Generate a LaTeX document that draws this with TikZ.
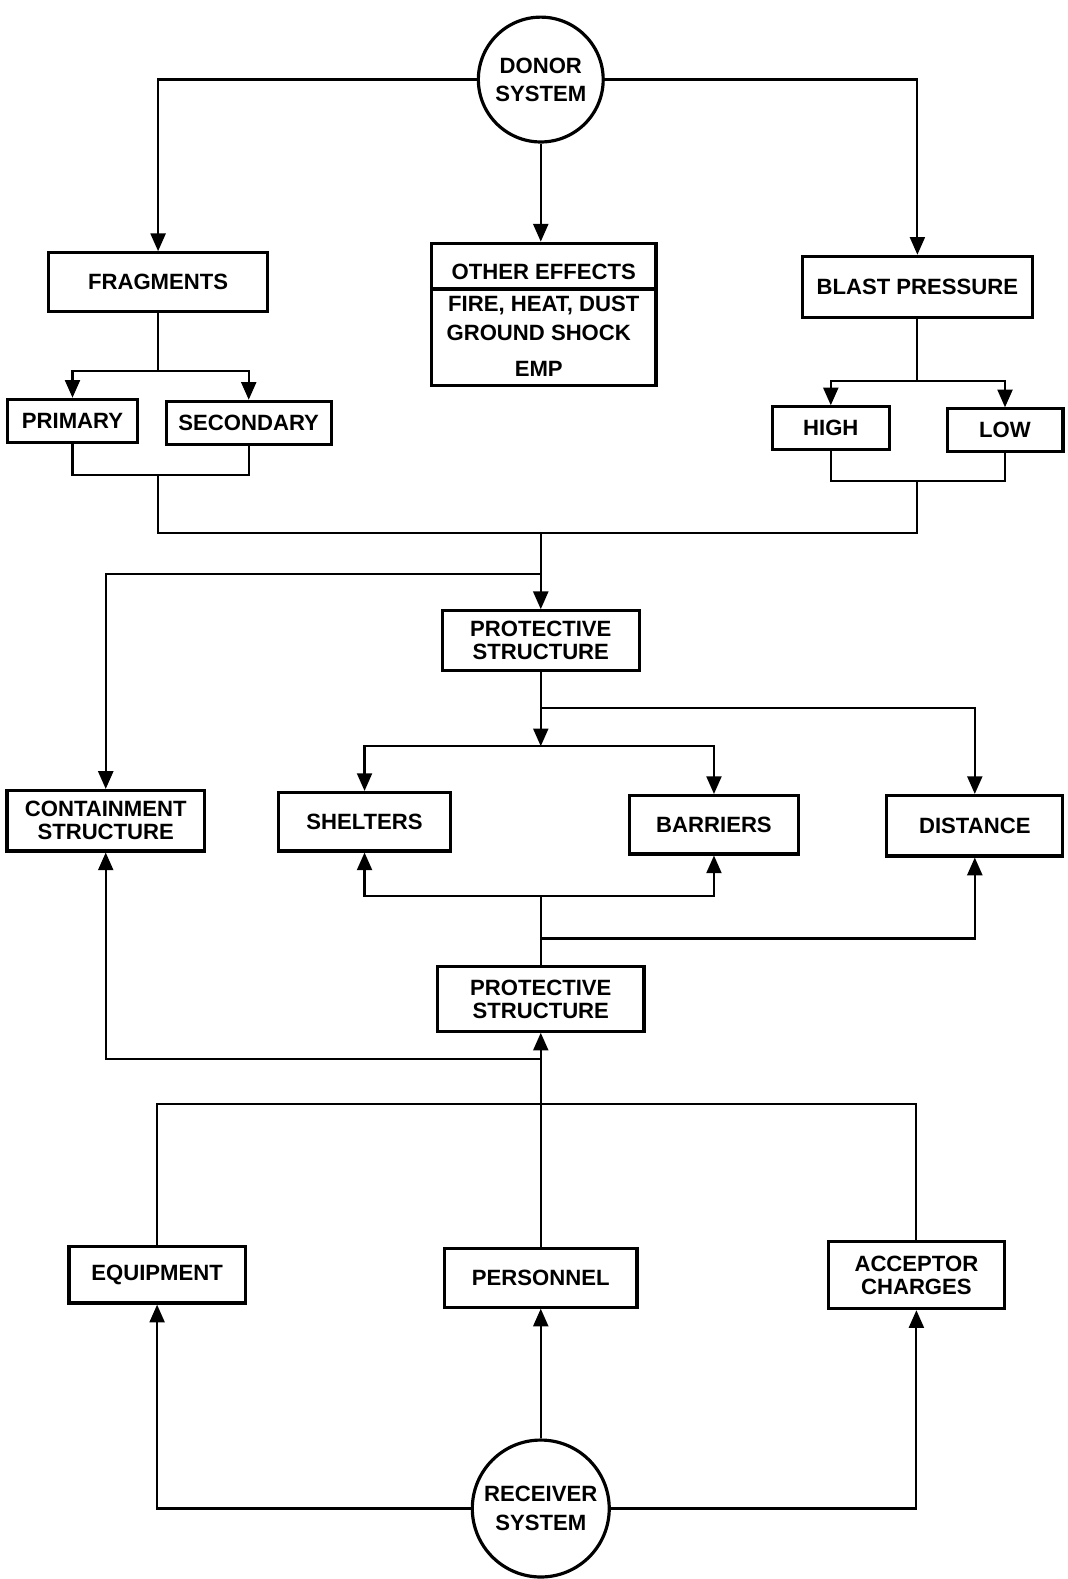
\documentclass[tikz,border=0pt]{standalone}
\usepackage{fontspec}
\setmainfont{Liberation Sans}
\usetikzlibrary{arrows.meta}
\tikzset{
box/.style={draw,line width=1.8pt,inner sep=0pt,align=center,font=\bfseries\fontsize{12.5}{13}\selectfont},
sys/.style={draw,circle,line width=1.8pt,inner sep=0pt,align=center,font=\bfseries\fontsize{12.5}{16}\selectfont},
lbl/.style={inner sep=0pt,font=\bfseries\fontsize{12.5}{13}\selectfont},
arr/.style={-{Triangle[length=10pt,width=8.5pt]}}
}
\begin{document}
\begin{tikzpicture}[x=0.02cm,y=-0.02cm,line width=1.2pt]
\useasboundingbox (0,0) rectangle (1060,1568);
\node[sys,minimum size=2.48cm] (donor) at (537,79) {DONOR\\SYSTEM};
\node[box,minimum width=4.34cm,minimum height=1.16cm] (frag) at (157,280) {FRAGMENTS};
\node[box,minimum width=4.46cm,minimum height=2.82cm] (other) at (540,312) {};
\node[lbl] (othert) at (540,270) {OTHER EFFECTS};
\node[lbl] (fire) at (540,303) {FIRE, HEAT, DUST};
\node[lbl] (ground) at (535,331) {GROUND SHOCK};
\node[lbl] (emp) at (535,366) {EMP};
\node[box,minimum width=4.56cm,minimum height=1.22cm] (blast) at (911,285) {BLAST PRESSURE};
\node[box,minimum width=2.58cm,minimum height=0.86cm] (prim) at (72,418) {PRIMARY};
\node[box,minimum width=3.28cm,minimum height=0.86cm] (sec) at (247,420) {SECONDARY};
\node[box,minimum width=2.32cm,minimum height=0.84cm] (high) at (825,425) {HIGH};
\node[box,minimum width=2.30cm,minimum height=0.84cm] (low) at (998,427) {LOW};
\node[box,minimum width=3.92cm,minimum height=1.18cm] (prot1) at (537,636) {PROTECTIVE\\STRUCTURE};
\node[box,minimum width=3.92cm,minimum height=1.20cm] (cont) at (105,815) {CONTAINMENT\\STRUCTURE};
\node[box,minimum width=3.42cm,minimum height=1.16cm] (shel) at (362,816) {SHELTERS};
\node[box,minimum width=3.36cm,minimum height=1.16cm] (barr) at (709,819) {BARRIERS};
\node[box,minimum width=3.50cm,minimum height=1.20cm] (dist) at (968,820) {DISTANCE};
\node[box,minimum width=4.10cm,minimum height=1.28cm] (prot2) at (537,992) {PROTECTIVE\\STRUCTURE};
\node[box,minimum width=3.50cm,minimum height=1.12cm] (equip) at (156,1266) {EQUIPMENT};
\node[box,minimum width=3.82cm,minimum height=1.16cm] (pers) at (537,1269) {PERSONNEL};
\node[box,minimum width=3.50cm,minimum height=1.34cm] (acc) at (910,1266) {ACCEPTOR\\CHARGES};
\node[sys,minimum size=2.72cm] (recv) at (537,1498) {RECEIVER\\SYSTEM};
\coordinate (odiv) at (540,287);
\coordinate (fsplit) at (157,368);
\coordinate (fbot) at (157,472);
\coordinate (bsplit) at (911,378);
\coordinate (hbot) at (911,478);
\coordinate (ttop) at (537,529);
\coordinate (cbr) at (537,570);
\coordinate (dbr) at (537,703);
\coordinate (sbar) at (537,741);
\coordinate (sbot) at (537,890);
\coordinate (dbot) at (537,932);
\coordinate (cbot) at (537,1052);
\coordinate (ebot) at (537,1096);
\draw[line width=1.8pt] (other.west |- odiv) -- (other.east |- odiv);
\draw[arr] (donor.west) -| (frag.north);
\draw[arr] (donor.south) -- (donor.south |- other.north);
\draw[arr] (donor.east) -| (blast.north);
\draw (frag.south) -- (fsplit);
\draw[arr] (fsplit) -| (prim.north);
\draw[arr] (fsplit) -| (sec.north);
\draw (prim.south) |- (fbot) -| (sec.south);
\draw (blast.south) -- (bsplit);
\draw[arr] (bsplit) -| (high.north);
\draw[arr] (bsplit) -| (low.north);
\draw (high.south) |- (hbot) -| (low.south);
\draw (fbot) |- (ttop) -| (hbot);
\draw[arr] (ttop) -- (prot1.north);
\draw[arr] (cbr) -| (cont.north);
\draw[arr] (prot1.south) -- (sbar);
\draw[arr] (dbr) -| (dist.north);
\draw[arr] (sbar) -| (shel.north);
\draw[arr] (sbar) -| (barr.north);
\draw[arr] (sbot) -| (shel.south);
\draw[arr] (sbot) -| (barr.south);
\draw (sbot) -- (prot2.north);
\draw[arr] (dbot) -| (dist.south);
\draw[arr] (cbot) -| (cont.south);
\draw[arr] (pers.north) -- (prot2.south);
\draw (equip.north) |- (ebot) -| (acc.north);
\draw[arr] (recv.west) -| (equip.south);
\draw[arr] (recv.north) -- (pers.south);
\draw[arr] (recv.east) -| (acc.south);
\end{tikzpicture}
\end{document}
